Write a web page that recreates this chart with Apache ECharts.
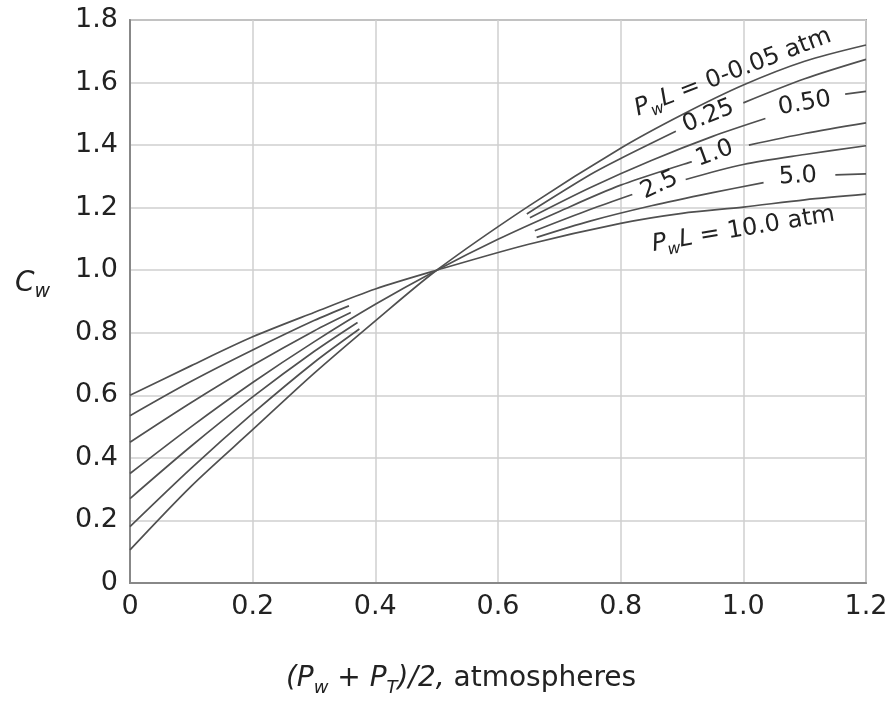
<!DOCTYPE html>
<html>
<head>
<meta charset="utf-8">
<script src="https://cdn.jsdelivr.net/npm/echarts@6/dist/echarts.min.js"></script>
<style>
html,body{margin:0;padding:0;background:#fff;}
#chart{width:892px;height:702px;}
</style>
</head>
<body>
<div id="chart"></div>
<script>
// ---- tick labels ----
const xTickLabels = ['0', '0.2', '0.4', '0.6', '0.8', '1.0', '1.2'];
const yTickLabels = ['0', '0.2', '0.4', '0.6', '0.8', '1.0', '1.2', '1.4', '1.6', '1.8'];

// ---- curves: each is a list of drawn segments of [x, Cw] points ----
const pwl_0_005 = [
  [[0, 0.106], [0.1, 0.31], [0.2, 0.49], [0.3, 0.67], [0.4, 0.838], [0.5, 1.0], [0.65, 1.205], [0.8, 1.39], [0.9, 1.497], [1.0, 1.592], [1.1, 1.668], [1.2, 1.72]]
];
const pwl_025 = [
  [[0, 0.18], [0.1, 0.367], [0.2, 0.542], [0.3, 0.705], [0.374, 0.812]],
  [[0.647, 1.18], [0.75, 1.305], [0.8, 1.357], [0.89, 1.444]],
  [[1.0, 1.535], [1.1, 1.612], [1.2, 1.674]]
];
const pwl_050 = [
  [[0, 0.27], [0.1, 0.438], [0.2, 0.595], [0.3, 0.74], [0.371, 0.833]],
  [[0.652, 1.168], [0.75, 1.264], [0.85, 1.351], [0.95, 1.428], [1.036, 1.485]],
  [[1.166, 1.563], [1.2, 1.572]]
];
const pwl_10 = [
  [[0, 0.35], [0.1, 0.50], [0.2, 0.641], [0.3, 0.771], [0.4, 0.891], [0.5, 1.0], [0.6, 1.099], [0.7, 1.188], [0.8, 1.272], [0.916, 1.347]],
  [[1.009, 1.40], [1.1, 1.437], [1.2, 1.471]]
];
const pwl_25 = [
  [[0, 0.45], [0.1, 0.577], [0.2, 0.696], [0.3, 0.806], [0.36, 0.865]],
  [[0.66, 1.126], [0.75, 1.194], [0.819, 1.242]],
  [[0.906, 1.29], [1.0, 1.338], [1.1, 1.37], [1.2, 1.398]]
];
const pwl_50 = [
  [[0, 0.535], [0.1, 0.645], [0.2, 0.745], [0.3, 0.839], [0.357, 0.886]],
  [[0.663, 1.105], [0.75, 1.157], [0.85, 1.206], [0.95, 1.248], [1.033, 1.28]],
  [[1.15, 1.305], [1.2, 1.308]]
];
const pwl_100 = [
  [[0, 0.6], [0.1, 0.695], [0.2, 0.787], [0.3, 0.865], [0.4, 0.94], [0.5, 1.0], [0.65, 1.083], [0.8, 1.15], [0.9, 1.182], [1.0, 1.202], [1.1, 1.225], [1.2, 1.243]]
];
const curves = [pwl_0_005, pwl_025, pwl_050, pwl_10, pwl_25, pwl_50, pwl_100];

// ---- curve labels: text, anchor (data coords), rotation in degrees ----
const labelTexts = ['{i|P}{s|w}{i|L}{n| = 0-0.05 atm}', '0.25', '0.50', '1.0', '2.5', '5.0', '{i|P}{s|w}{i|L}{n| = 10.0 atm}'];
const labelAnchors = [[0.983, 1.632], [0.943, 1.492], [1.10, 1.533], [0.953, 1.373], [0.863, 1.272], [1.089, 1.30], [1.0, 1.13]];
const labelAngles = [21, 22, 10, 20, 25, 3, 9.5];

const FONT = '"DejaVu Sans", Verdana, sans-serif';
const TXT = '#222';
const LINE = '#505050';

const chart = echarts.init(document.getElementById('chart'), null, {renderer: 'canvas'});

const series = [];
curves.forEach(function (segs) {
  segs.forEach(function (seg) {
    series.push({
      type: 'line',
      data: seg,
      smooth: 0.3,
      symbol: 'none',
      silent: true,
      lineStyle: {color: LINE, width: 1.7},
      z: 3
    });
  });
});

const richLabel = {
  i: {fontFamily: FONT, fontSize: 24, fontStyle: 'italic', color: TXT, lineHeight: 32, verticalAlign: 'middle'},
  s: {fontFamily: FONT, fontSize: 16, fontStyle: 'italic', color: TXT, lineHeight: 32, verticalAlign: 'bottom'},
  n: {fontFamily: FONT, fontSize: 24, color: TXT, lineHeight: 32, verticalAlign: 'middle'}
};

const option = {
  backgroundColor: '#fff',
  animation: false,
  grid: {
    left: 130, right: 26, top: 20, bottom: 117,
    show: true, borderColor: '#9a9a9a', borderWidth: 1.8, backgroundColor: 'transparent'
  },
  xAxis: {
    type: 'value', min: 0, max: 1.2, interval: 0.2,
    axisLine: {show: true, lineStyle: {color: '#888', width: 2}},
    axisTick: {show: false},
    splitLine: {show: true, lineStyle: {color: '#cfcfcf', width: 1.5}},
    axisLabel: {
      margin: 10, color: TXT, fontFamily: FONT, fontSize: 27,
      formatter: function (v) { return xTickLabels[Math.round(v / 0.2)]; }
    },
    name: '{i|(P}{s|w}{i| + P}{s|T}{i|)/2,}{n| atmospheres}',
    nameLocation: 'middle', nameGap: 78,
    nameTextStyle: {
      padding: [0, 74, 0, 0],
      rich: {
        i: {fontFamily: FONT, fontSize: 28, fontStyle: 'italic', color: TXT, lineHeight: 36, verticalAlign: 'middle'},
        s: {fontFamily: FONT, fontSize: 18, fontStyle: 'italic', color: TXT, lineHeight: 36, verticalAlign: 'bottom'},
        n: {fontFamily: FONT, fontSize: 28, color: TXT, lineHeight: 36, verticalAlign: 'middle'}
      }
    }
  },
  yAxis: {
    type: 'value', min: 0, max: 1.8, interval: 0.2,
    axisLine: {show: true, lineStyle: {color: '#888', width: 2}},
    axisTick: {show: false},
    splitLine: {show: true, lineStyle: {color: '#cfcfcf', width: 1.5}},
    axisLabel: {
      margin: 12, color: TXT, fontFamily: FONT, fontSize: 27,
      formatter: function (v) { return yTickLabels[Math.round(v / 0.2)]; }
    },
    name: '{i|C}{s|w}',
    nameLocation: 'middle', nameRotate: 0, nameGap: 80,
    nameTextStyle: {
      padding: [0, 0, 36, 0],
      rich: {
        i: {fontFamily: FONT, fontSize: 28, fontStyle: 'italic', color: TXT, lineHeight: 36, verticalAlign: 'middle'},
        s: {fontFamily: FONT, fontSize: 19, fontStyle: 'italic', color: TXT, lineHeight: 36, verticalAlign: 'bottom'}
      }
    }
  },
  series: series
};

chart.setOption(option);

const graphics = labelTexts.map(function (t, k) {
  const p = chart.convertToPixel({gridIndex: 0}, labelAnchors[k]);
  return {
    type: 'text',
    x: p[0], y: p[1],
    rotation: labelAngles[k] * Math.PI / 180,
    z: 10,
    style: {
      text: t,
      rich: richLabel,
      fontFamily: FONT, fontSize: 24, fill: TXT,
      align: 'center', verticalAlign: 'middle'
    }
  };
});
chart.setOption({graphic: graphics});
</script>
</body>
</html>
